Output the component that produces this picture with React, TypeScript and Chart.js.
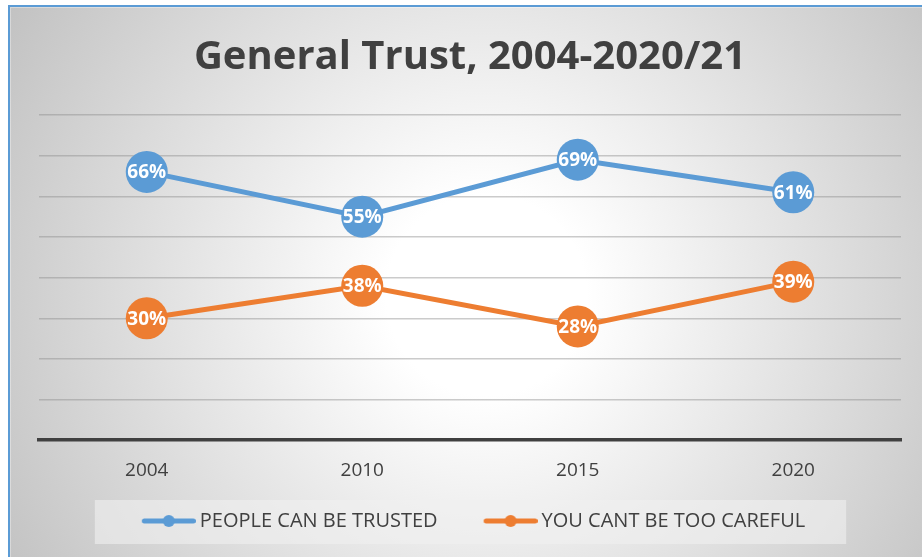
import React, { useEffect, useRef } from "react";
import { Chart, registerables } from "chart.js";

Chart.register(...registerables);

const categories = ["2004", "2010", "2015", "2020"];
const trustedValues = [66, 55, 69, 61];
const carefulValues = [30, 38, 28, 39];
const seriesNames = ["PEOPLE CAN BE TRUSTED", "YOU CANT BE TOO CAREFUL"];
const seriesColors = ["#5b9bd5", "#ed7d31"];
const titleText = "General Trust, 2004-2020/21";
const yMin = 0;
const yMax = 80;
const yStep = 10;

const FONT = "'Open Sans', 'Noto Sans', sans-serif";
const TEXT = "#404040";

// legend marker geometry
const LEG_PAD = 10;
const LEG_T = 46 - LEG_PAD; // transparent left pad inside item
const LEG_B = 48 + LEG_T; // box width used by legend
const LEG_W = LEG_B + 12; // image width
const LEG_SHIFT = -(LEG_T / 2) + 3.5;

function makeLegendImage(color: string): HTMLCanvasElement {
  const c = document.createElement("canvas");
  c.width = LEG_W;
  c.height = 14;
  const ctx = c.getContext("2d")!;
  const x0 = LEG_T + 6 + 2.5;
  const x1 = LEG_T + 60 - 2.5;
  ctx.strokeStyle = color;
  ctx.lineWidth = 5;
  ctx.lineCap = "round";
  ctx.beginPath();
  ctx.moveTo(x0, 7);
  ctx.lineTo(x1, 7);
  ctx.stroke();
  ctx.fillStyle = color;
  ctx.beginPath();
  ctx.arc((x0 + x1) / 2, 7, 6, 0, Math.PI * 2);
  ctx.fill();
  return c;
}

const legendShiftPlugin = {
  id: "legendShift",
  afterLayout(chart: any) {
    const lg = chart.legend;
    if (!lg) return;
    lg.left += LEG_SHIFT;
    lg.right += LEG_SHIFT;
  },
};

const legendBoxPlugin = {
  id: "legendBox",
  beforeDraw(chart: any) {
    const lg = chart.legend;
    if (!lg || !lg.legendHitBoxes || !lg.legendHitBoxes.length) return;
    const hb = lg.legendHitBoxes;
    let minX = Infinity;
    let maxX = -Infinity;
    hb.forEach((h: any) => {
      minX = Math.min(minX, h.left + LEG_T);
      maxX = Math.max(maxX, h.left + h.width);
    });
    const cy = hb[0].top + hb[0].height / 2;
    const ctx = chart.ctx;
    ctx.save();
    ctx.fillStyle = "rgba(240,240,240,0.6)";
    ctx.fillRect(minX - 47, cy - 21, maxX - minX + 47 + 41, 44);
    ctx.restore();
  },
};

const dataLabelPlugin = {
  id: "dataLabels",
  afterDatasetsDraw(chart: any) {
    const ctx = chart.ctx;
    ctx.save();
    ctx.font = `bold 19px ${FONT}`;
    ctx.fillStyle = "#ffffff";
    ctx.textAlign = "center";
    ctx.textBaseline = "middle";
    chart.data.datasets.forEach((ds: any, i: number) => {
      const meta = chart.getDatasetMeta(i);
      meta.data.forEach((pt: any, j: number) => {
        ctx.fillText(`${ds.data[j]}%`, pt.x, pt.y + 1);
      });
    });
    ctx.restore();
  },
};

export default function App() {
  const ref = useRef<HTMLCanvasElement>(null);

  useEffect(() => {
    if (!ref.current) return;
    const images = seriesColors.map(makeLegendImage);
    const chart = new Chart(ref.current, {
      type: "line",
      data: {
        labels: categories,
        datasets: [
          {
            label: seriesNames[0],
            data: trustedValues,
            borderColor: seriesColors[0],
            backgroundColor: seriesColors[0],
            borderWidth: 5,
            pointRadius: 21,
            pointHoverRadius: 21,
            pointBackgroundColor: seriesColors[0],
            pointBorderWidth: 0,
          },
          {
            label: seriesNames[1],
            data: carefulValues,
            borderColor: seriesColors[1],
            backgroundColor: seriesColors[1],
            borderWidth: 5,
            pointRadius: 21,
            pointHoverRadius: 21,
            pointBackgroundColor: seriesColors[1],
            pointBorderWidth: 0,
          },
        ],
      },
      options: {
        responsive: false,
        animation: false,
        events: [],
        layout: { padding: { left: 39, right: 21, top: 1, bottom: 16 } },
        scales: {
          x: {
            type: "category",
            offset: true,
            grid: { display: false, drawTicks: false },
            border: { display: true, color: "#404040", width: 3.5 },
            ticks: {
              color: TEXT,
              padding: 19,
              font: { family: FONT, size: 19 },
            },
          },
          y: {
            min: yMin,
            max: yMax,
            ticks: { display: false, stepSize: yStep },
            grid: { color: "rgba(140,140,140,0.45)", lineWidth: 1.5, drawTicks: false },
            border: { display: false },
          },
        },
        plugins: {
          title: {
            display: true,
            text: titleText,
            color: TEXT,
            font: { family: FONT, size: 40, weight: "bold", lineHeight: 1.2 },
            padding: { top: 33, bottom: 33 },
          },
          legend: {
            display: true,
            position: "bottom",
            labels: {
              color: TEXT,
              font: { family: FONT, size: 20 },
              usePointStyle: true,
              pointStyleWidth: LEG_B,
              padding: LEG_PAD,
              generateLabels(chart: any) {
                const items = Chart.defaults.plugins.legend.labels.generateLabels(chart);
                items.forEach((it: any, i: number) => {
                  it.pointStyle = images[i];
                });
                return items;
              },
            },
          },
          tooltip: { enabled: false },
        },
      },
      plugins: [legendShiftPlugin, legendBoxPlugin, dataLabelPlugin],
    } as any);
    return () => chart.destroy();
  }, []);

  return (
    <div style={{ position: "absolute", left: 0, top: 0, width: 922, height: 557, overflow: "hidden" }}>
      <div
        style={{
          position: "absolute",
          left: 8,
          top: 5,
          right: -4,
          bottom: -4,
          borderTop: "2px solid #5b9bd5",
          borderLeft: "2px solid #5b9bd5",
          boxShadow: "inset 1px 1px 0 rgba(255,255,255,0.35)",
          background: "radial-gradient(circle at 52% 52%, #ffffff 0%, #ffffff 18%, #c2c2c2 100%)",
        }}
      />
      <canvas
        ref={ref}
        width={922}
        height={557}
        style={{ position: "absolute", left: 0, top: 0, width: 922, height: 557 }}
      />
    </div>
  );
}
